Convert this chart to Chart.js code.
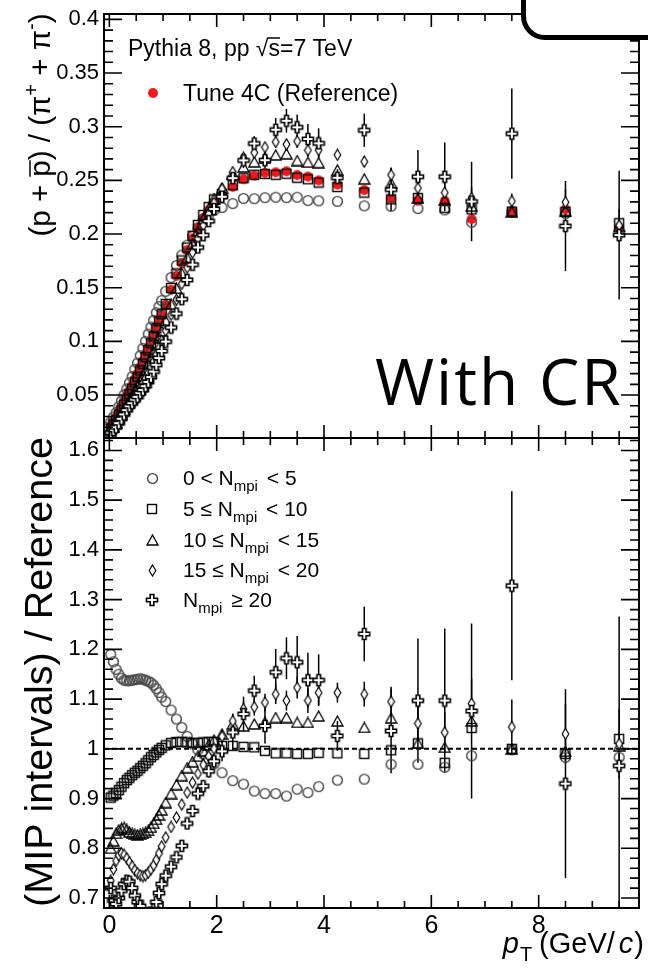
<!DOCTYPE html>
<html><head><meta charset="utf-8">
<script src="https://cdn.jsdelivr.net/npm/chart.js@4.4.1/dist/chart.umd.min.js"></script>
<style>
html,body{margin:0;padding:0;background:#fff;}
#wrap{position:relative;width:648px;height:970px;overflow:hidden;background:#fff;}
#cTop{position:absolute;left:0;top:-10px;width:648px;height:470px;}
#cBot{position:absolute;left:0;top:414px;width:648px;height:556px;}
#withcr{position:absolute;left:375px;top:349px;font-family:"Open Sans",sans-serif;font-size:64px;line-height:64px;letter-spacing:2px;color:#000;white-space:nowrap;}
#box{position:absolute;left:521px;top:-60px;width:200px;height:90px;border:5px solid #000;border-radius:24px;background:#fff;}
</style></head>
<body><div id="wrap">
<canvas id="cTop" width="648" height="470"></canvas>
<canvas id="cBot" width="648" height="556"></canvas>
<div id="withcr">With CR</div>
<div id="box"></div>
</div>
<script>
// ---------------- data ----------------
const pT = [0.025,0.075,0.125,0.175,0.225,0.275,0.325,0.375,0.425,0.475,0.525,0.575,0.625,0.675,0.725,0.775,0.825,0.875,0.925,0.975,1.05,1.15,1.25,1.35,1.45,1.55,1.65,1.75,1.85,1.95,2.1,2.3,2.5,2.7,2.9,3.1,3.3,3.5,3.7,3.9,4.25,4.75,5.25,5.75,6.25,6.75,7.5,8.5,9.5];

// top panel: (p+pbar)/(pi+ + pi-)
const refTune4C = [0.021,0.025,0.029,0.034,0.039,0.044,0.049,0.054,0.059,0.065,0.070,0.076,0.082,0.088,0.094,0.100,0.106,0.113,0.119,0.125,0.134,0.148,0.161,0.173,0.185,0.196,0.206,0.215,0.222,0.229,0.236,0.244,0.251,0.2545,0.257,0.2575,0.2585,0.255,0.2535,0.250,0.246,0.241,0.233,0.231,0.231,0.214,0.221,0.223,0.206];
const topMpi0_5 = [0.0250,0.0294,0.0336,0.0391,0.0445,0.0501,0.0557,0.0614,0.0671,0.0740,0.0798,0.0867,0.0935,0.1001,0.1068,0.1133,0.1196,0.1267,0.1324,0.1380,0.1467,0.1595,0.1707,0.1804,0.1896,0.1980,0.2056,0.2129,0.2176,0.2221,0.2247,0.2284,0.2332,0.2329,0.2339,0.2343,0.2339,0.2343,0.2312,0.2310,0.2305,0.2263,0.2258,0.2238,0.2225,0.2110,0.2206,0.2192,0.2025];
const topMpi5_10 = [0.0189,0.0227,0.0264,0.0312,0.0360,0.0410,0.0459,0.0509,0.0559,0.0619,0.0669,0.0730,0.0792,0.0854,0.0918,0.0983,0.1047,0.1122,0.1188,0.1253,0.1349,0.1498,0.1633,0.1754,0.1874,0.1984,0.2085,0.2178,0.2251,0.2322,0.2374,0.2455,0.2520,0.2553,0.2560,0.2552,0.2562,0.2525,0.2510,0.2480,0.2438,0.2386,0.2323,0.2335,0.2245,0.2230,0.2210,0.2208,0.2101];
const topMpi10_15 = [0.0168,0.0204,0.0241,0.0285,0.0328,0.0370,0.0411,0.0450,0.0490,0.0538,0.0579,0.0629,0.0681,0.0732,0.0786,0.0842,0.0901,0.0970,0.1032,0.1096,0.1195,0.1347,0.1494,0.1637,0.1780,0.1909,0.2029,0.2141,0.2238,0.2331,0.2431,0.2562,0.2625,0.2672,0.2706,0.2737,0.2748,0.2685,0.2669,0.2665,0.2598,0.2514,0.2474,0.2335,0.2317,0.2260,0.2210,0.2219,0.2072];
const topMpi15_20 = [0.0154,0.0190,0.0225,0.0267,0.0308,0.0346,0.0382,0.0417,0.0451,0.0491,0.0525,0.0567,0.0610,0.0656,0.0706,0.0758,0.0812,0.0878,0.0940,0.1005,0.1101,0.1248,0.1388,0.1536,0.1687,0.1827,0.1957,0.2081,0.2187,0.2290,0.2419,0.2577,0.2711,0.2759,0.2809,0.2858,0.2836,0.2864,0.2781,0.2783,0.2738,0.2675,0.2551,0.2428,0.2386,0.2335,0.2307,0.2297,0.2081];
const topMpi20 = [0.0151,0.0174,0.0200,0.0238,0.0279,0.0320,0.0360,0.0396,0.0425,0.0458,0.0484,0.0520,0.0548,0.0583,0.0622,0.0668,0.0719,0.0782,0.0845,0.0910,0.0998,0.1129,0.1259,0.1393,0.1573,0.1715,0.1875,0.1989,0.2120,0.2233,0.2348,0.2521,0.2686,0.2843,0.2688,0.2972,0.3055,0.2994,0.2885,0.2845,0.2524,0.2967,0.2414,0.2534,0.2534,0.2303,0.2935,0.2074,0.1990];
const topErr15_20 = [0,0,0,0,0,0,0,0,0,0,0,0,0,0,0,0,0,0,0,0,0,0,0,0,0,0,0,0,0,0,0.002,0.003,0.003,0.004,0.004,0.005,0.005,0.006,0.006,0.007,0.004,0.005,0.007,0.008,0.009,0.010,0.007,0.012,0.015];
const topErr20 = [0,0,0,0,0,0,0,0,0,0,0,0,0,0,0,0,0,0,0,0,0,0,0,0,0.002,0.002,0.003,0.003,0.003,0.004,0.004,0.006,0.007,0.007,0.008,0.011,0.011,0.012,0.014,0.014,0.008,0.0155,0.020,0.025,0.032,0.037,0.042,0.042,0.060];

// bottom panel: (MIP intervals) / Reference
const ratMpi0_5 = [1.19,1.175,1.16,1.15,1.142,1.138,1.137,1.137,1.138,1.139,1.14,1.141,1.14,1.138,1.136,1.133,1.128,1.121,1.113,1.104,1.095,1.078,1.06,1.043,1.025,1.01,0.998,0.99,0.98,0.97,0.952,0.936,0.929,0.915,0.91,0.91,0.905,0.919,0.912,0.924,0.937,0.939,0.969,0.969,0.963,0.986,0.998,0.983,0.983];
const ratMpi5_10 = [0.902,0.906,0.911,0.917,0.924,0.931,0.937,0.942,0.947,0.952,0.956,0.961,0.966,0.971,0.977,0.983,0.988,0.993,0.998,1.002,1.007,1.012,1.014,1.014,1.013,1.012,1.012,1.013,1.014,1.014,1.006,1.006,1.004,1.003,0.996,0.991,0.991,0.99,0.99,0.992,0.991,0.99,0.997,1.011,0.972,1.042,1.0,0.99,1.02];
const ratMpi10_15 = [0.80,0.815,0.83,0.837,0.84,0.842,0.838,0.833,0.83,0.828,0.827,0.828,0.83,0.832,0.836,0.842,0.85,0.858,0.867,0.877,0.892,0.91,0.928,0.946,0.962,0.974,0.985,0.996,1.008,1.018,1.03,1.05,1.046,1.05,1.053,1.063,1.063,1.053,1.053,1.066,1.056,1.043,1.062,1.011,1.003,1.056,1.0,0.995,1.006];
const ratMpi15_20 = [0.735,0.758,0.775,0.786,0.79,0.787,0.78,0.772,0.764,0.756,0.75,0.746,0.744,0.746,0.751,0.758,0.766,0.777,0.79,0.804,0.822,0.843,0.862,0.888,0.912,0.932,0.95,0.968,0.985,1.0,1.025,1.056,1.08,1.084,1.093,1.11,1.097,1.123,1.097,1.113,1.113,1.11,1.095,1.051,1.033,1.091,1.044,1.03,1.01];
const ratMpi20 = [0.72,0.695,0.688,0.70,0.715,0.728,0.735,0.733,0.72,0.705,0.692,0.684,0.668,0.662,0.662,0.668,0.678,0.692,0.71,0.728,0.745,0.763,0.782,0.805,0.85,0.875,0.91,0.925,0.955,0.975,0.995,1.033,1.07,1.117,1.046,1.154,1.182,1.174,1.138,1.138,1.026,1.231,1.036,1.097,1.097,1.076,1.328,0.93,0.966];
const ratErr15_20 = [0.004,0.004,0.004,0.004,0.004,0.004,0.004,0.004,0.004,0.004,0.004,0.004,0.004,0.004,0.004,0.004,0.004,0.004,0.004,0.004,0.005,0.005,0.006,0.006,0.006,0.007,0.007,0.007,0.008,0.008,0.012,0.015,0.015,0.017,0.018,0.02,0.02,0.022,0.025,0.025,0.02,0.025,0.03,0.035,0.04,0.05,0.055,0.06,0.07];
const ratErr20 = [0.005,0.005,0.005,0.005,0.005,0.005,0.005,0.005,0.005,0.005,0.005,0.005,0.005,0.005,0.005,0.005,0.005,0.005,0.005,0.005,0.006,0.006,0.007,0.008,0.009,0.01,0.011,0.012,0.013,0.015,0.02,0.035,0.035,0.03,0.035,0.047,0.042,0.053,0.055,0.052,0.03,0.055,0.085,0.125,0.145,0.176,0.19,0.19,0.30];
const unityX = [-0.1, 9.87];
const unityY = [1, 1];

// axes / ticks
const xRange = [-0.1, 9.87];
const topYRange = [0.01, 0.405];
const botYRange = [0.68, 1.625];
const xMajor = [0,2,4,6,8];
const xLabels = ['0','2','4','6','8'];
const xMinor = [0.5,1,1.5,2.5,3,3.5,4.5,5,5.5,6.5,7,7.5,8.5,9,9.5];
const topYMajor = [0.05,0.1,0.15,0.2,0.25,0.3,0.35,0.4];
const topYLabels = ['0.05','0.1','0.15','0.2','0.25','0.3','0.35','0.4'];
const topYMinor = [0.02,0.03,0.04,0.06,0.07,0.08,0.09,0.11,0.12,0.13,0.14,0.16,0.17,0.18,0.19,0.21,0.22,0.23,0.24,0.26,0.27,0.28,0.29,0.31,0.32,0.33,0.34,0.36,0.37,0.38,0.39];
const botYMajor = [0.7,0.8,0.9,1.0,1.1,1.2,1.3,1.4,1.5,1.6];
const botYLabels = ['0.7','0.8','0.9','1','1.1','1.2','1.3','1.4','1.5','1.6'];
const botYMinor = [0.72,0.74,0.76,0.78,0.82,0.84,0.86,0.88,0.92,0.94,0.96,0.98,1.02,1.04,1.06,1.08,1.12,1.14,1.16,1.18,1.22,1.24,1.26,1.28,1.32,1.34,1.36,1.38,1.42,1.44,1.46,1.48,1.52,1.54,1.56,1.58,1.62];

const seriesNames = ['0 < N_mpi < 5','5 ≤ N_mpi < 10','10 ≤ N_mpi < 15','15 ≤ N_mpi < 20','N_mpi ≥ 20'];
const legendPre = ['0 < N','5 ≤ N','10 ≤ N','15 ≤ N','N'];
const legendPost = [' < 5',' < 10',' < 15',' < 20',' ≥ 20'];

// ---------------- rendering ----------------
const FONT = '"Liberation Sans", Arial, Helvetica, sans-serif';
const A_OFF = -10, B_OFF = 414;

function mk(w, h, draw) { const c = document.createElement('canvas'); c.width = w; c.height = h; draw(c.getContext('2d')); return c; }
const mCircle = mk(13, 13, g => { g.strokeStyle = '#444'; g.lineWidth = 1.4; g.beginPath(); g.arc(6.5, 6.5, 4.9, 0, 2 * Math.PI); g.stroke(); });
const mSquare = mk(12, 12, g => { g.strokeStyle = '#000'; g.lineWidth = 1.4; g.strokeRect(1.5, 1.5, 9, 9); });
const mTri = mk(13, 12, g => { g.strokeStyle = '#000'; g.lineWidth = 1.3; g.beginPath(); g.moveTo(6.5, 1); g.lineTo(12, 11); g.lineTo(1, 11); g.closePath(); g.stroke(); });
const mDiam = mk(9, 13, g => { g.strokeStyle = '#000'; g.lineWidth = 1.2; g.fillStyle = '#fff'; g.beginPath(); g.moveTo(4.5, 1); g.lineTo(7.8, 6.5); g.lineTo(4.5, 12); g.lineTo(1.2, 6.5); g.closePath(); g.fill(); g.stroke(); });
const mCross = mk(14, 14, g => {
  const a = 1.5, b = 5.2, c = 8.8, d = 12.5;
  g.strokeStyle = '#000'; g.lineWidth = 1.6; g.fillStyle = '#fff'; g.beginPath();
  g.moveTo(b, a); g.lineTo(c, a); g.lineTo(c, b); g.lineTo(d, b); g.lineTo(d, c); g.lineTo(c, c);
  g.lineTo(c, d); g.lineTo(b, d); g.lineTo(b, c); g.lineTo(a, c); g.lineTo(a, b); g.lineTo(b, b); g.closePath();
  g.fill(); g.stroke();
});
const mRef = mk(12, 12, g => { g.fillStyle = '#f01a1a'; g.beginPath(); g.arc(6, 6, 5, 0, 2 * Math.PI); g.fill(); });
const markers = [mCircle, mSquare, mTri, mDiam, mCross];

const pts = arr => pT.map((x, i) => ({x: x, y: arr[i]}));

function segWidth(ctx, segs) { let w = 0; segs.forEach(s => { ctx.font = s.f; w += ctx.measureText(s.t).width + (s.gap || 0); }); return w; }
function drawSegs(ctx, segs, x, y, align) {
  const w = segWidth(ctx, segs);
  let cx = align === 'center' ? x - w / 2 : (align === 'right' ? x - w : x);
  ctx.textAlign = 'left'; ctx.textBaseline = 'alphabetic'; ctx.fillStyle = '#000';
  segs.forEach(s => {
    ctx.font = s.f;
    const tw = ctx.measureText(s.t).width;
    ctx.fillText(s.t, cx, y + (s.dy || 0));
    if (s.over) { ctx.save(); ctx.strokeStyle = '#000'; ctx.lineWidth = 1.5; ctx.beginPath(); ctx.moveTo(cx + (s.ox || 0), y - s.over); ctx.lineTo(cx + tw, y - s.over); ctx.stroke(); ctx.restore(); }
    cx += tw + (s.gap || 0);
  });
}

const errPlugin = {
  id: 'errbars',
  beforeDatasetsDraw(chart) {
    const {ctx, chartArea: a} = chart; const xs = chart.scales.x, ys = chart.scales.y;
    ctx.save();
    ctx.beginPath(); ctx.rect(a.left, a.top, a.right - a.left, a.bottom - a.top); ctx.clip();
    ctx.strokeStyle = '#000'; ctx.lineWidth = 1.5;
    chart.data.datasets.forEach(ds => {
      if (!ds.errorBars) return;
      ds.data.forEach((p, i) => {
        const e = ds.errorBars[i]; if (!e) return;
        const px = xs.getPixelForValue(p.x);
        ctx.beginPath(); ctx.moveTo(px, ys.getPixelForValue(p.y - e)); ctx.lineTo(px, ys.getPixelForValue(p.y + e)); ctx.stroke();
      });
    });
    ctx.restore();
  }
};

function decorPlugin(yMajor, yMinor, extra) {
  return {
    id: 'decor',
    afterDraw(chart) {
      const {ctx, chartArea: a} = chart; const xs = chart.scales.x, ys = chart.scales.y;
      ctx.save();
      ctx.strokeStyle = '#000'; ctx.lineWidth = 1.6;
      ctx.beginPath();
      const tickX = (v, len) => { const p = xs.getPixelForValue(v); ctx.moveTo(p, a.bottom); ctx.lineTo(p, a.bottom - len); ctx.moveTo(p, a.top); ctx.lineTo(p, a.top + len); };
      const tickY = (v, len) => { const p = ys.getPixelForValue(v); ctx.moveTo(a.left, p); ctx.lineTo(a.left + len, p); ctx.moveTo(a.right, p); ctx.lineTo(a.right - len, p); };
      xMajor.forEach(v => tickX(v, 13)); xMinor.forEach(v => tickX(v, 7));
      yMajor.forEach(v => tickY(v, 18)); yMinor.forEach(v => tickY(v, 9));
      ctx.stroke();
      ctx.lineWidth = 2;
      ctx.strokeRect(a.left, a.top, a.right - a.left, a.bottom - a.top);
      ctx.restore();
      if (extra) { ctx.save(); extra(chart, ctx); ctx.restore(); }
    }
  };
}

function scalesFor(yRange, yMajor, yLabels, showX) {
  return {
    x: {
      type: 'linear', min: xRange[0], max: xRange[1], display: showX,
      grid: {display: false, drawTicks: false}, border: {display: false},
      afterBuildTicks: s => { s.ticks = xMajor.map(v => ({value: v})); },
      ticks: {autoSkip: false, maxRotation: 0, padding: 3, color: '#000', font: {family: FONT, size: 25}, callback: (v, i) => xLabels[i]},
      afterFit: s => { s.height = showX ? 62 : 0; }
    },
    y: {
      type: 'linear', min: yRange[0], max: yRange[1],
      grid: {display: false, drawTicks: false}, border: {display: false},
      afterBuildTicks: s => { s.ticks = yMajor.map(v => ({value: v})); },
      ticks: {autoSkip: false, padding: 5, color: '#000', font: {family: FONT, size: 22}, callback: (v, i) => yLabels[i]},
      afterFit: s => { s.width = 104; }
    }
  };
}

const commonOpts = {responsive: false, animation: false, devicePixelRatio: 1, events: [],
  plugins: {legend: {display: false}, tooltip: {enabled: false}}};

// ---- top panel ----
const topExtra = (chart, ctx) => {
  ctx.translate(0, -A_OFF);
  // y title
  ctx.save();
  ctx.translate(50, 125); ctx.rotate(-Math.PI / 2);
  const f = '29.5px ' + FONT, fs = '20px ' + FONT;
  drawSegs(ctx, [
    {t: '(p + ', f: f}, {t: 'p', f: f, over: 20}, {t: ') / (π', f: f}, {t: '+', f: fs, dy: -12},
    {t: ' + π', f: f}, {t: '-', f: fs, dy: -12}, {t: ')', f: f}
  ], 0, 0, 'center');
  ctx.restore();
  // legend
  const lf = '23px ' + FONT;
  drawSegs(ctx, [{t: 'Pythia 8, pp ', f: lf}, {t: '√', f: lf}, {t: 's', f: lf, over: 18, ox: -1}, {t: '=7 TeV', f: lf}], 128, 56, 'left');
  ctx.drawImage(mRef, 153 - 6, 93 - 6);
  drawSegs(ctx, [{t: 'Tune 4C (Reference)', f: lf}], 183, 101, 'left');
};

new Chart(document.getElementById('cTop'), {
  type: 'scatter',
  data: {datasets: [
    {label: seriesNames[4], data: pts(topMpi20), pointStyle: mCross, pointRadius: 5, errorBars: topErr20},
    {label: seriesNames[3], data: pts(topMpi15_20), pointStyle: mDiam, pointRadius: 5, errorBars: topErr15_20},
    {label: seriesNames[2], data: pts(topMpi10_15), pointStyle: mTri, pointRadius: 5},
    {label: seriesNames[1], data: pts(topMpi5_10), pointStyle: mSquare, pointRadius: 5},
    {label: seriesNames[0], data: pts(topMpi0_5), pointStyle: mCircle, pointRadius: 5},
    {label: 'Tune 4C (Reference)', data: pts(refTune4C), pointStyle: mRef, pointRadius: 5}
  ]},
  options: Object.assign({}, commonOpts, {
    layout: {padding: {left: 0, right: 9, top: 24, bottom: 22}},
    scales: scalesFor(topYRange, topYMajor, topYLabels, false)
  }),
  plugins: [errPlugin, decorPlugin(topYMajor, topYMinor, topExtra)]
});

// ---- bottom panel ----
const botExtra = (chart, ctx) => {
  ctx.translate(0, -B_OFF);
  // y title
  ctx.save();
  ctx.translate(52, 672); ctx.rotate(-Math.PI / 2);
  drawSegs(ctx, [{t: '(MIP intervals) / Reference', f: '39.5px ' + FONT}], 0, 0, 'center');
  ctx.restore();
  // x title
  const xf = '29px ' + FONT, xi = 'italic 29px ' + FONT;
  drawSegs(ctx, [
    {t: 'p', f: xi, gap: 1}, {t: 'T', f: '20px ' + FONT, dy: 8, gap: 7}, {t: '(GeV/', f: xf, gap: 4}, {t: 'c', f: xi, gap: 1}, {t: ')', f: xf}
  ], 644, 953, 'right');
  // legend
  const rows = [478, 509, 540, 570, 600];
  const mf = '21px ' + FONT, sf = '15px ' + FONT;
  rows.forEach((yc, i) => {
    const m = markers[i];
    ctx.drawImage(m, Math.round(152 - m.width / 2), Math.round(yc - m.height / 2));
    drawSegs(ctx, [{t: legendPre[i], f: mf}, {t: 'mpi', f: sf, dy: 6, gap: 3}, {t: legendPost[i], f: mf}], 183, yc + 7, 'left');
  });
};

new Chart(document.getElementById('cBot'), {
  type: 'scatter',
  data: {datasets: [
    {label: seriesNames[4], data: pts(ratMpi20), pointStyle: mCross, pointRadius: 5, errorBars: ratErr20},
    {label: seriesNames[3], data: pts(ratMpi15_20), pointStyle: mDiam, pointRadius: 5, errorBars: ratErr15_20},
    {label: seriesNames[2], data: pts(ratMpi10_15), pointStyle: mTri, pointRadius: 5},
    {label: seriesNames[1], data: pts(ratMpi5_10), pointStyle: mSquare, pointRadius: 5},
    {label: seriesNames[0], data: pts(ratMpi0_5), pointStyle: mCircle, pointRadius: 5},
    {label: 'unity', type: 'line', data: unityX.map((x, i) => ({x: x, y: unityY[i]})), borderColor: '#000', borderWidth: 2, borderDash: [5, 3], pointRadius: 0, fill: false}
  ]},
  options: Object.assign({}, commonOpts, {
    layout: {padding: {left: 0, right: 9, top: 24, bottom: 0}},
    scales: scalesFor(botYRange, botYMajor, botYLabels, true)
  }),
  plugins: [errPlugin, decorPlugin(botYMajor, botYMinor, botExtra)]
});
</script></body></html>
